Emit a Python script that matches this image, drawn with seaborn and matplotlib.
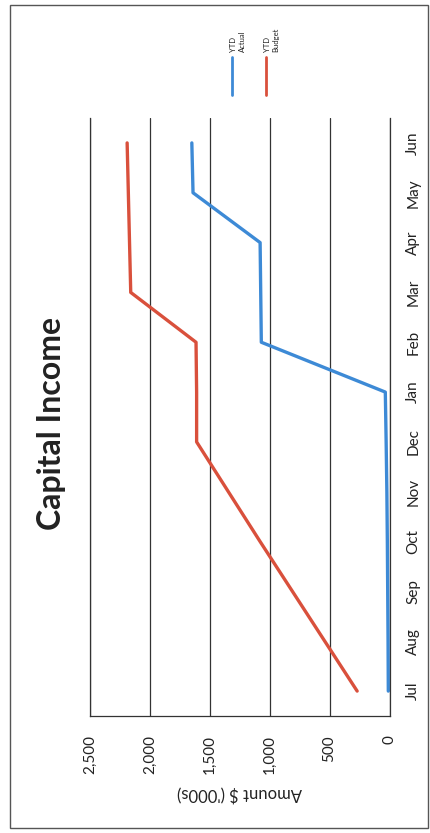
import matplotlib
matplotlib.use("Agg")
import matplotlib.pyplot as plt
import seaborn as sns
import pandas as pd
from matplotlib.lines import Line2D
from matplotlib.patches import Rectangle

# ---- data ----
months = ["Jul", "Aug", "Sep", "Oct", "Nov", "Dec", "Jan", "Feb", "Mar", "Apr", "May", "Jun"]
ytd_actual = [10, 12, 15, 18, 22, 28, 35, 1070, 1075, 1080, 1640, 1650]
ytd_budget = [270, 540, 810, 1080, 1345, 1610, 1610, 1615, 2160, 2170, 2180, 2190]
amount_ticks = [0, 500, 1000, 1500, 2000, 2500]
amount_labels = ["0", "500", "1,000", "1,500", "2,000", "2,500"]
series_names = ["YTD Actual", "YTD Budget"]
legend_labels = ["YTD\nActual", "YTD\nBudget"]

BLUE = "#3d8ad6"
RED = "#d9503c"

sns.set_theme(style="white")
plt.rcParams["font.family"] = ["Lato", "DejaVu Sans"]

df = pd.DataFrame({
    "Month": months * 2,
    "pos": list(range(len(months))) * 2,
    "Amount": ytd_actual + ytd_budget,
    "Series": [series_names[0]] * len(months) + [series_names[1]] * len(months),
})

fig = plt.figure(figsize=(4.31, 8.33), dpi=100)
fig.patch.set_facecolor("white")
ax = fig.add_axes([90 / 431, 1 - 716 / 833, (389.5 - 90) / 431, (716 - 118) / 833])

sns.lineplot(data=df, x="Amount", y="pos", hue="Series", orient="y",
             palette={series_names[0]: BLUE, series_names[1]: RED},
             linewidth=2.4, legend=False, errorbar=None, ax=ax)

ax.set_xlim(2500, 0)
ax.set_ylim(-0.5, len(months) - 0.5)
ax.set_xticks(amount_ticks)
ax.set_xticklabels(amount_labels, rotation=90)
ax.set_yticks(range(len(months)))
ax.set_yticklabels(months, rotation=90, va="center")
ax.yaxis.tick_right()
ax.grid(axis="x", color="#333333", linewidth=0.9)
ax.grid(axis="y", visible=False)
ax.set_axisbelow(True)
for side in ["left", "right", "bottom"]:
    ax.spines[side].set_visible(True)
    ax.spines[side].set_color("#333333")
    ax.spines[side].set_linewidth(0.9)
ax.spines["top"].set_visible(False)
ax.tick_params(axis="x", length=0, pad=14, labelsize=11, labelcolor="#222222")
ax.tick_params(axis="y", length=0, pad=12, labelsize=11, labelcolor="#222222")
ax.set_xlabel("Amount $ ('000s)", rotation=180, fontsize=12, labelpad=7, color="#222222")
ax.set_ylabel("")

# title
fig.text(52 / 431, 1 - 423 / 833, "Capital Income", rotation=90, ha="center", va="center",
         fontsize=23, fontweight="bold", color="#222222")

# legend (rotated)
for xpix, col, lab in [(232, BLUE, legend_labels[0]), (266, RED, legend_labels[1])]:
    fig.add_artist(Line2D([xpix / 431, xpix / 431], [1 - 57 / 833, 1 - 95 / 833],
                          transform=fig.transFigure, color=col, linewidth=2))
    fig.text((xpix + 6) / 431, 1 - 52 / 833, lab, rotation=90, ha="center", va="bottom",
             fontsize=5.5, multialignment="left", color="#222222")

# outer chart border
fig.add_artist(Rectangle((10 / 431, 1 - 828 / 833), (428 - 10) / 431, (828 - 5) / 833,
                         transform=fig.transFigure, fill=False, edgecolor="#555555", linewidth=1))

fig.savefig("out.png", dpi=100)
